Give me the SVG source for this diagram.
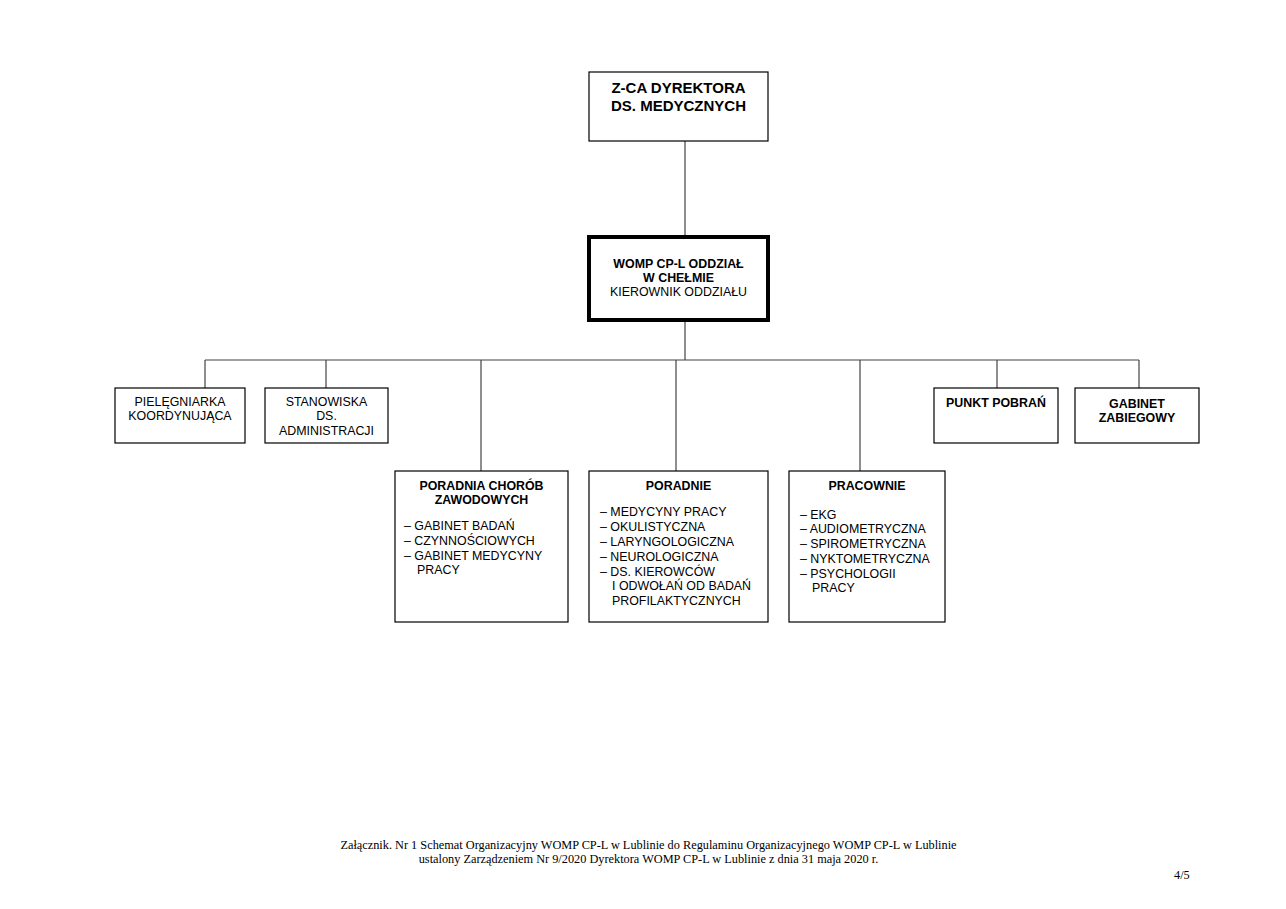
<svg xmlns="http://www.w3.org/2000/svg" width="1286" height="909" viewBox="0 0 1286 909">
<style>
.box{fill:#fff;stroke:#000;stroke-width:1.2}
.thick{fill:#fff;stroke:#000;stroke-width:4}
.t{font-family:"Liberation Sans",Arial,sans-serif;font-size:12.4px;fill:#000}
.b{font-weight:bold}
.c{text-anchor:middle}
.big{font-size:15px;font-weight:bold}
.f{font-family:"Liberation Serif","Times New Roman",serif;font-size:12.3px;fill:#000}
.ln{stroke:#444;stroke-width:1.2;fill:none}
</style>
<rect width="1286" height="909" fill="#fff"/>
<g id="connectors">
<path class="ln" d="M685 141V236M685 320V360M205 360H1139M205 360V388M326 360V388M481 360V471M676 360V471M860 360V471M997 360V388M1139 360V388"/>
</g>
<g id="zca">
<rect class="box" x="589" y="72" width="179" height="69"/>
<text class="t big c" x="678.5" y="93">Z-CA DYREKTORA</text>
<text class="t big c" x="678.5" y="111">DS. MEDYCZNYCH</text>
</g>
<g id="womp">
<rect class="thick" x="589" y="237" width="179" height="83"/>
<text class="t b c" x="678.5" y="268">WOMP CP-L ODDZIAŁ</text>
<text class="t b c" x="678.5" y="282">W CHEŁMIE</text>
<text class="t c" x="678.5" y="296">KIEROWNIK ODDZIAŁU</text>
</g>
<g id="pielegniarka">
<rect class="box" x="115" y="388" width="130" height="55"/>
<text class="t c" x="180" y="406">PIELĘGNIARKA</text>
<text class="t c" x="180" y="420">KOORDYNUJĄCA</text>
</g>
<g id="stanowiska">
<rect class="box" x="265" y="388" width="123" height="55"/>
<text class="t c" x="326.5" y="406">STANOWISKA</text>
<text class="t c" x="326.5" y="420">DS.</text>
<text class="t c" x="326.5" y="435">ADMINISTRACJI</text>
</g>
<g id="punkt">
<rect class="box" x="934" y="388" width="124" height="55"/>
<text class="t b c" x="996" y="407">PUNKT POBRAŃ</text>
</g>
<g id="gabinet">
<rect class="box" x="1075" y="388" width="124" height="55"/>
<text class="t b c" x="1137" y="408">GABINET</text>
<text class="t b c" x="1137" y="422">ZABIEGOWY</text>
</g>
<g id="poradnia-chorob">
<rect class="box" x="395" y="471" width="173" height="151"/>
<text class="t b c" x="481.5" y="490">PORADNIA CHORÓB</text>
<text class="t b c" x="481.5" y="504">ZAWODOWYCH</text>
<text class="t" x="404" y="530">– GABINET BADAŃ</text>
<text class="t" x="404" y="545">– CZYNNOŚCIOWYCH</text>
<text class="t" x="404" y="560">– GABINET MEDYCYNY</text>
<text class="t" x="417" y="574">PRACY</text>
</g>
<g id="poradnie">
<rect class="box" x="589" y="471" width="179" height="151"/>
<text class="t b c" x="678.5" y="490">PORADNIE</text>
<text class="t" x="600" y="516">– MEDYCYNY PRACY</text>
<text class="t" x="600" y="531">– OKULISTYCZNA</text>
<text class="t" x="600" y="546">– LARYNGOLOGICZNA</text>
<text class="t" x="600" y="561">– NEUROLOGICZNA</text>
<text class="t" x="600" y="576">– DS. KIEROWCÓW</text>
<text class="t" x="612" y="590">I ODWOŁAŃ OD BADAŃ</text>
<text class="t" x="612" y="605">PROFILAKTYCZNYCH</text>
</g>
<g id="pracownie">
<rect class="box" x="789" y="471" width="156" height="151"/>
<text class="t b c" x="867" y="490">PRACOWNIE</text>
<text class="t" x="800" y="519">– EKG</text>
<text class="t" x="800" y="533">– AUDIOMETRYCZNA</text>
<text class="t" x="800" y="548">– SPIROMETRYCZNA</text>
<text class="t" x="800" y="563">– NYKTOMETRYCZNA</text>
<text class="t" x="800" y="578">– PSYCHOLOGII</text>
<text class="t" x="812" y="592">PRACY</text>
</g>
<g id="footer">
<text class="f c" x="648.5" y="849">Załącznik. Nr 1 Schemat Organizacyjny WOMP CP-L w Lublinie do Regulaminu Organizacyjnego WOMP CP-L w Lublinie</text>
<text class="f c" x="648.5" y="863">ustalony Zarządzeniem Nr 9/2020 Dyrektora WOMP CP-L w Lublinie z dnia 31 maja 2020 r.</text>
<text class="f" x="1174" y="879">4/5</text>
</g>
</svg>
